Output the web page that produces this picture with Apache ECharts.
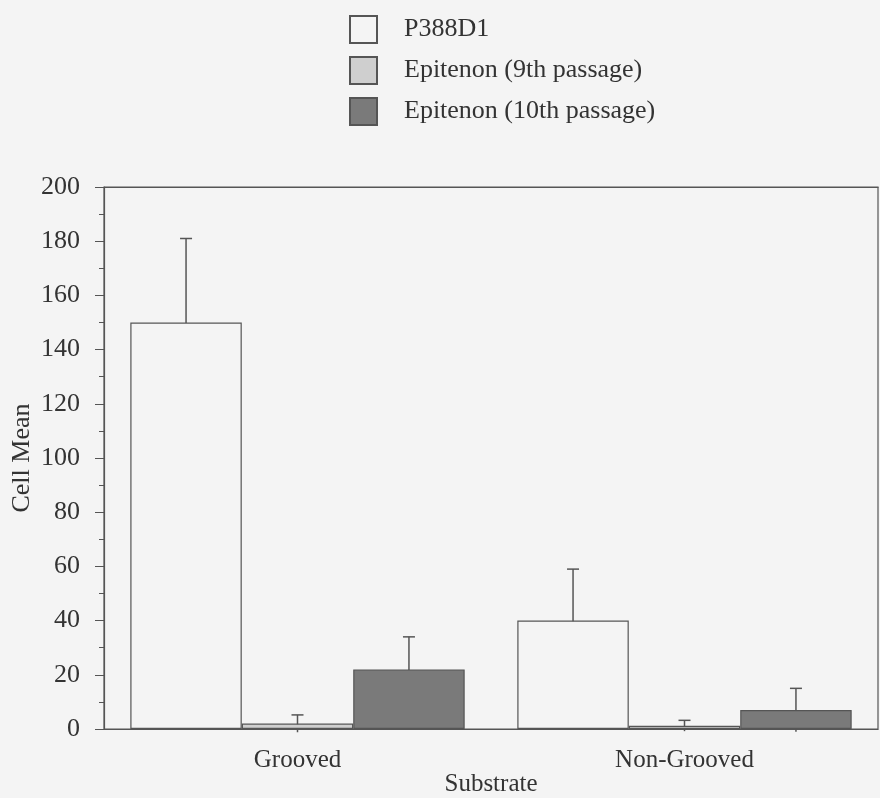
<!DOCTYPE html>
<html>
<head>
<meta charset="utf-8">
<script src="https://cdn.jsdelivr.net/npm/echarts@6/dist/echarts.min.js"></script>
<style>
  html, body { margin: 0; padding: 0; background: #f4f4f4; }
  #chart { width: 880px; height: 798px; }
</style>
</head>
<body>
<div id="chart"></div>
<script>
// 数据
var categories = ['Grooved', 'Non-Grooved'];
var seriesNames = ['P388D1', 'Epitenon (9th passage)', 'Epitenon (10th passage)'];
var p388Mean = [150, 40];
var p388Err = [31, 19];
var ep9Mean = [2, 1.2];
var ep9Err = [3.2, 2];
var ep10Mean = [22, 7];
var ep10Err = [12, 8];
var yTicks = [0, 20, 40, 60, 80, 100, 120, 140, 160, 180, 200];

var means = [p388Mean, ep9Mean, ep10Mean];
var errs = [p388Err, ep9Err, ep10Err];
var fills = ['#f4f4f4', '#cfcfcf', '#7a7a7a'];
var lineColor = '#555';
var textColor = '#333';
var font = 'Liberation Serif';
var gapPct = 0.136;

// 误差线
function errorSeries(k) {
    return {
        type: 'custom',
        z: 1,
        data: categories.map(function (c, i) { return [i, means[k][i], errs[k][i]]; }),
        renderItem: function (params, api) {
            var band = api.size([1, 0])[0];
            var barW = band * (1 - gapPct) / 3;
            var top = api.coord([api.value(0), api.value(1) + api.value(2)]);
            var bot = api.coord([api.value(0), api.value(1) - api.value(2)]);
            var x = top[0] + (k - 1) * barW;
            var style = { stroke: lineColor, lineWidth: 1.5 };
            return {
                type: 'group',
                children: [
                    { type: 'line', shape: { x1: x, y1: top[1], x2: x, y2: bot[1] }, style: style },
                    { type: 'line', shape: { x1: x - 6, y1: top[1], x2: x + 6, y2: top[1] }, style: style }
                ]
            };
        }
    };
}

var series = seriesNames.map(function (name, k) {
    return {
        name: name,
        type: 'bar',
        z: 2,
        barGap: '0%',
        barCategoryGap: (gapPct * 100) + '%',
        itemStyle: { color: fills[k], borderColor: lineColor, borderWidth: 1.2 },
        data: means[k]
    };
});
series = series.concat([errorSeries(0), errorSeries(1), errorSeries(2)]);

var option = {
    backgroundColor: '#f4f4f4',
    animation: false,
    textStyle: { fontFamily: font, color: textColor },
    legend: {
        data: seriesNames,
        orient: 'vertical',
        left: 344,
        top: 10,
        icon: 'rect',
        itemWidth: 27,
        itemHeight: 27,
        itemGap: 12,
        textStyle: { fontFamily: font, fontSize: 26, color: textColor, padding: [0, 0, 0, 22] }
    },
    grid: {
        left: 104,
        right: 2,
        top: 187,
        bottom: 69,
        containLabel: false,
        outerBoundsMode: 'none',
        show: true,
        borderColor: lineColor,
        borderWidth: 1.2,
        backgroundColor: 'transparent'
    },
    xAxis: [{
        type: 'category',
        data: categories,
        name: 'Substrate',
        nameLocation: 'middle',
        nameGap: 43,
        nameMoveOverlap: false,
        nameTextStyle: { fontFamily: font, fontSize: 25, color: textColor },
        axisLine: { lineStyle: { color: lineColor, width: 1.2 } },
        axisTick: { alignWithLabel: true, length: 5, lineStyle: { color: lineColor } },
        axisLabel: { margin: 19, fontFamily: font, fontSize: 25, color: textColor }
    }, {
        type: 'category',
        data: categories,
        position: 'top',
        axisLine: { lineStyle: { color: lineColor, width: 1.2 } },
        axisTick: { alignWithLabel: true, length: 5, lineStyle: { color: lineColor } },
        axisLabel: { show: false }
    }],
    yAxis: {
        type: 'value',
        min: yTicks[0],
        max: yTicks[yTicks.length - 1],
        interval: yTicks[1] - yTicks[0],
        name: 'Cell Mean',
        nameLocation: 'middle',
        nameRotate: 90,
        nameGap: 69,
        nameMoveOverlap: false,
        nameTextStyle: { fontFamily: font, fontSize: 26, color: textColor },
        axisLine: { show: true, lineStyle: { color: lineColor, width: 1.2 } },
        axisTick: { show: true, length: 9, lineStyle: { color: lineColor } },
        minorTick: { show: true, splitNumber: 2, length: 5, lineStyle: { color: lineColor } },
        splitLine: { show: false },
        axisLabel: { margin: 24, fontFamily: font, fontSize: 26, color: textColor }
    },
    series: series
};

var myChart = echarts.init(document.getElementById('chart'));
myChart.setOption(option);
</script>
</body>
</html>
